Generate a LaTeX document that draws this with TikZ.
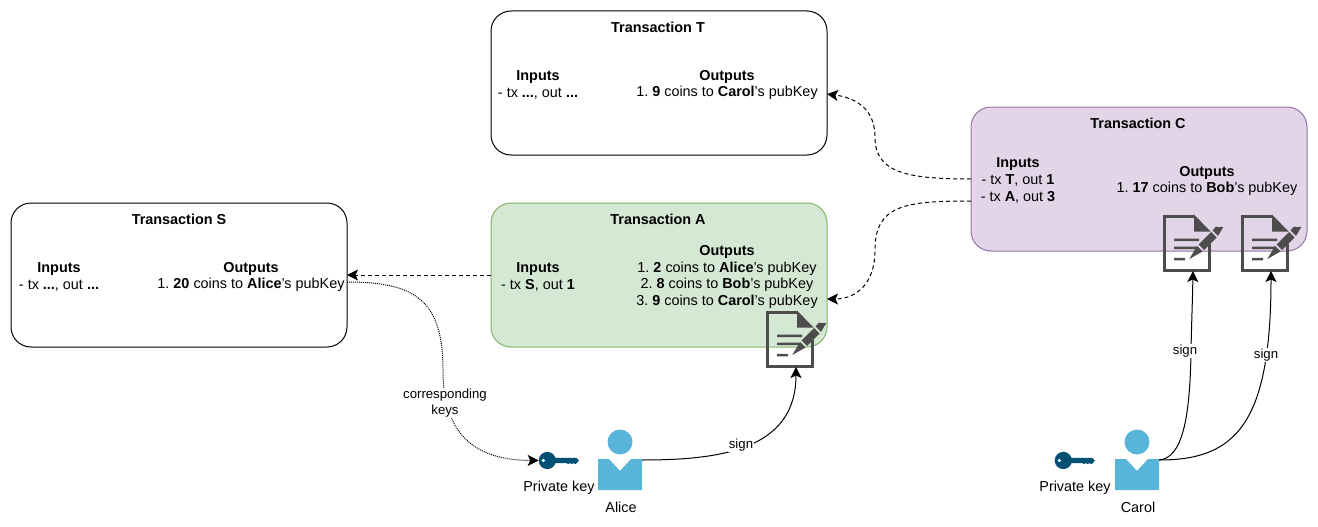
\documentclass[tikz,border=0pt]{standalone}
\usepackage{fontspec}
\setmainfont{Liberation Sans}
\frenchspacing
\usetikzlibrary{positioning,arrows.meta,calc}
\definecolor{iconc}{HTML}{4D4D4D}
\definecolor{keyc}{HTML}{005073}
\definecolor{userc}{HTML}{59B4D9}
\tikzset{
  txbox/.style={rectangle,rounded corners=20pt,draw=black,line width=1pt,minimum width=336pt,minimum height=144pt,outer sep=0pt,inner sep=0pt},
  txA/.style={txbox,draw={rgb,255:red,130;green,179;blue,102},fill={rgb,255:red,213;green,232;blue,212}},
  txC/.style={txbox,draw={rgb,255:red,150;green,115;blue,166},fill={rgb,255:red,225;green,213;blue,231}},
  lbl/.style={align=center,inner sep=0pt,font=\fontsize{14.4}{16.6}\selectfont},
  ttl/.style={lbl,font=\fontsize{14.4}{16.6}\selectfont\bfseries},
  small/.style={align=center,inner sep=1pt,fill=white,font=\fontsize{13.2}{15.6}\selectfont},
  spend/.style={-{Stealth[length=11pt,width=11pt,inset=2.5pt]},line width=1pt,dash pattern=on 4pt off 3pt},
  signline/.style={-{Stealth[length=11pt,width=11pt,inset=2.5pt]},line width=1pt},
  keyline/.style={-{Stealth[length=11pt,width=11pt,inset=2.5pt]},line width=1pt,dash pattern=on 1pt off 1pt},
  signdoc/.pic={
    \draw[iconc,line width=3pt] (45,28)--(45,54)--(0,54)--(0,0)--(30,0);
    \fill[iconc] (30,-1.5)--(46.5,15.5)--(30,15.5)--cycle;
    \fill[iconc] (10,22.5) rectangle (35,25) (10,30.5) rectangle (33,33) (10,41.8) rectangle (21,44.3);
    \fill[iconc] (25.3,43)--(33,30)--(38.5,35.5)--cycle (34.5,28.5)--(47,16)--(52.5,21.5)--(40,34)--cycle;
    \fill[iconc] (48.5,14.5)--(52,10.5) to[out=-45,in=45] (59,11.5) to[out=-135,in=45] (54,20)--cycle;
    \coordinate (-tip) at (29,55);
  },
  keyicon/.pic={
    \fill[keyc] (0,0) circle (8.6pt);
    \fill[keyc] (6,-2.6)--(29,-2.6)--(31.5,0)--(29.5,2.6)--(28,3.6)--(26,2.6)--(24.5,3.6)--(22.5,2.6)--(21,3.6)--(19,2.6)--(6,2.6)--cycle;
    \fill[white] (-4,0) circle (1.8pt);
    \coordinate (-west) at (-8.6,0);
  },
  person/.pic={
    \fill[userc] (0,-18) circle (12.5pt);
    \fill[userc] (-22,-1)--(-11,-1)--(0,11)--(11,-1)--(22,-1)--(22,30)--(-22,30)--cycle;
    \coordinate (-east) at (22,0);
  },
}
\begin{document}
\begin{tikzpicture}[x=1pt,y=-1pt,>=Stealth]
  \useasboundingbox (0,0) rectangle (1318,527);
  \node[txbox] (txT) at (659,83) {}; \node[txA] (txAbox) [below=48pt of txT] {};
  \node[txbox] (txS) [left=144pt of txAbox] {}; \node[txC] (txCbox) at (1139,179) {};
  \node[ttl] (tT) at (658,27) {Transaction T}; \node[ttl] (tA) at (658,219) {Transaction A};
  \node[ttl] (tS) at (179,219) {Transaction S}; \node[ttl] (tC) at (1138,123) {Transaction C};
  \node[lbl] (inT) at (538,85) {\textbf{Inputs}\\- tx \textbf{...}, out \textbf{...}};
  \node[lbl] (outT) at (727,85) {\textbf{Outputs}\\1. \textbf{9} coins to \textbf{Carol}'s pubKey};
  \node[lbl] (inA) at (538,277) {\textbf{Inputs}\\- tx \textbf{S}, out \textbf{1}};
  \node[lbl] (outA) at (727,277) {\textbf{Outputs}\\1. \textbf{2} coins to \textbf{Alice}'s pubKey\\2. \textbf{8} coins to \textbf{Bob}'s pubKey\\3. \textbf{9} coins to \textbf{Carol}'s pubKey};
  \node[lbl] (inS) at (59,277) {\textbf{Inputs}\\- tx \textbf{...}, out \textbf{...}};
  \node[lbl] (outS) at (251,277) {\textbf{Outputs}\\1. \textbf{20} coins to \textbf{Alice}'s pubKey};
  \node[lbl] (inC) at (1018,180.5) {\textbf{Inputs}\\- tx \textbf{T}, out \textbf{1}\\- tx \textbf{A}, out \textbf{3}};
  \node[lbl] (outC) at (1207,181) {\textbf{Outputs}\\1. \textbf{17} coins to \textbf{Bob}'s pubKey};
  \pic (docA) at (767,312) {signdoc}; \pic (docC) at (1164,216) {signdoc}; \pic (docD) at (1242,216) {signdoc};
  \pic (keyA) at (547.3,460.5) {keyicon}; \pic (keyC) at (1063.3,460.5) {keyicon};
  \pic (alice) at (620,460) {person}; \pic (carol) at (1137,460) {person};
  \node[lbl] (pkA) at (559,488) {Private key}; \node[lbl] (pkC) at (1075,488) {Private key};
  \node[lbl] (nA) at (621,507) {Alice}; \node[lbl] (nC) at (1138,507) {Carol};
  \draw[spend] (txCbox.west) .. controls (905,179) and (875,172) .. (875,137) .. controls (875,105) and (850,97) .. ($(txT.east)+(0,11)$);
  \draw[spend] ($(txCbox.west)+(0,22)$) .. controls (905,201) and (875,205) .. (875,250) .. controls (875,285) and (855,299) .. ($(txAbox.east)+(0,24)$);
  \draw[spend] (txAbox.west)--(txS.east);
  \draw[keyline] ($(txS.east)+(0,7)$) .. controls (415,282) and (443,300) .. (443,370) .. controls (443,430) and (470,460) .. (keyA-west);
  \node[small] (lkeys) at (445,403) {corresponding\\keys};
  \draw[signline] (alice-east) .. controls (720,460) and (796,450) .. (docA-tip);
  \draw[signline] (carol-east) .. controls (1182,458) and (1190,420) .. (1191,351) .. controls (1191.5,325) and (1192.5,300) .. (docC-tip);
  \draw[signline] (carol-east) .. controls (1235,460) and (1271,425) .. (docD-tip);
  \node[small] (l1) at (741,445) {sign}; \node[small] (l2) at (1185,351) {sign}; \node[small] (l3) at (1266,355) {sign};
\end{tikzpicture}
\end{document}
